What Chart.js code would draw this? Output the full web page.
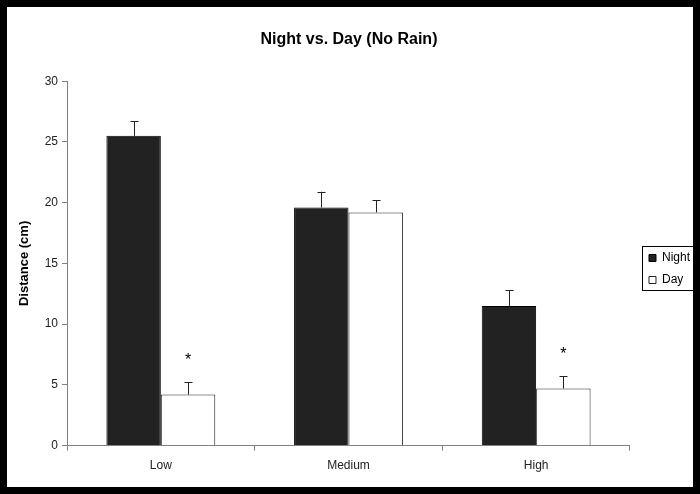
<!DOCTYPE html>
<html>
<head>
<meta charset="utf-8">
<script src="https://cdn.jsdelivr.net/npm/chart.js@4.4.1/dist/chart.umd.min.js"></script>
<style>
    html, body { margin: 0; padding: 0; background: #fff; }
    #frame {
        width: 700px; height: 494px;
        box-sizing: border-box;
        border: 7px solid #000;
        background: #fff;
    }
    canvas { display: block; }
</style>
</head>
<body>
<div id="frame">
    <canvas id="myChart" width="686" height="480"></canvas>
</div>
<script>
// categories and series
const categories = ['Low', 'Medium', 'High'];
const nightValues = [25.5, 19.6, 11.5];
const dayValues = [4.2, 19.2, 4.7];
const nightErrors = [1.2, 1.3, 1.3];
const dayErrors = [1.0, 1.0, 1.0];
const dayMarks = ['*', '', '*'];   // significance stars above the Day bars
const yTicks = [0, 5, 10, 15, 20, 25, 30];

const errorSets = [nightErrors, dayErrors];
const markSets = [[], dayMarks];

// error bars (upper half only) + asterisks + legend frame
const extras = {
    id: 'extras',
    afterLayout(chart) {
        // nudge the legend to where the original has it
        const lg = chart.legend;
        lg.left += 9;
        lg.right += 9;
        lg.top += 25;
        lg.bottom += 25;
    },
    afterDatasetsDraw(chart) {
        const ctx = chart.ctx;
        const y = chart.scales.y;
        ctx.save();
        chart.data.datasets.forEach((ds, i) => {
            const meta = chart.getDatasetMeta(i);
            meta.data.forEach((bar, j) => {
                const top = y.getPixelForValue(ds.data[j] + errorSets[i][j]);
                const base = y.getPixelForValue(ds.data[j]);
                ctx.strokeStyle = '#222';
                ctx.lineWidth = 1;
                ctx.beginPath();
                ctx.moveTo(Math.round(bar.x) + 0.5, base);
                ctx.lineTo(Math.round(bar.x) + 0.5, top);
                ctx.moveTo(Math.round(bar.x) - 3.5, Math.round(top) + 0.5);
                ctx.lineTo(Math.round(bar.x) + 4.5, Math.round(top) + 0.5);
                ctx.stroke();
                const mark = markSets[i][j];
                if (mark) {
                    ctx.fillStyle = '#000';
                    ctx.font = '16px "Liberation Sans", Arial, sans-serif';
                    ctx.textAlign = 'center';
                    ctx.textBaseline = 'middle';
                    ctx.fillText(mark, bar.x, top - 22);
                }
            });
        });
        ctx.restore();
    },
    afterDraw(chart) {
        const boxes = chart.legend.legendHitBoxes;
        if (!boxes || !boxes.length) return;
        const left = Math.min(...boxes.map(b => b.left)) - 7;
        const right = Math.max(...boxes.map(b => b.left + b.width)) + 3;
        const top = boxes[0].top - 6;
        const last = boxes[boxes.length - 1];
        const bottom = last.top + last.height + 4;
        const ctx = chart.ctx;
        ctx.save();
        ctx.strokeStyle = '#000';
        ctx.lineWidth = 1;
        ctx.strokeRect(Math.round(left) + 0.5, Math.round(top) + 0.5,
                       Math.round(right - left), Math.round(bottom - top));
        ctx.restore();
    }
};

const ctx = document.getElementById('myChart');
const myChart = new Chart(ctx, {
    type: 'bar',
    data: {
        labels: categories,
        datasets: [
            {
                label: 'Night',
                data: nightValues,
                backgroundColor: '#222222',
                borderColor: '#000000',
                borderWidth: 1,
                categoryPercentage: 0.58,
                barPercentage: 1.0
            },
            {
                label: 'Day',
                data: dayValues,
                backgroundColor: '#ffffff',
                borderColor: '#222222',
                borderWidth: 1,
                categoryPercentage: 0.58,
                barPercentage: 1.0
            }
        ]
    },
    options: {
        responsive: false,
        animation: false,
        layout: {
            padding: { left: 0, right: 2, top: 0, bottom: 6 }
        },
        scales: {
            x: {
                grid: {
                    display: true,
                    offset: true,
                    drawOnChartArea: false,
                    drawTicks: true,
                    tickLength: 5,
                    color: '#808080'
                },
                border: { display: true, color: '#808080', width: 1 },
                ticks: {
                    color: '#222',
                    padding: 8,
                    font: { family: '"Liberation Sans", Arial, sans-serif', size: 12 }
                }
            },
            y: {
                min: 0,
                max: 30,
                afterFit: (scale) => { scale.width = 60; },
                afterBuildTicks: (scale) => { scale.ticks = yTicks.map(v => ({ value: v })); },
                grid: {
                    display: true,
                    drawOnChartArea: false,
                    drawTicks: true,
                    tickLength: 5,
                    color: '#808080'
                },
                border: { display: true, color: '#808080', width: 1 },
                ticks: {
                    color: '#222',
                    padding: 4,
                    font: { family: '"Liberation Sans", Arial, sans-serif', size: 12 }
                },
                title: {
                    display: true,
                    text: 'Distance (cm)',
                    color: '#000',
                    padding: { top: 10, bottom: 0 },
                    font: { family: '"Liberation Sans", Arial, sans-serif', size: 13, weight: 'bold' }
                }
            }
        },
        plugins: {
            title: {
                display: true,
                text: 'Night vs. Day (No Rain)',
                color: '#000',
                font: { family: '"Liberation Sans", Arial, sans-serif', size: 16, weight: 'bold' },
                padding: { top: 23, bottom: 32 }
            },
            legend: {
                display: true,
                position: 'right',
                labels: {
                    boxWidth: 7,
                    boxHeight: 7,
                    padding: 10,
                    color: '#000',
                    font: { family: '"Liberation Sans", Arial, sans-serif', size: 12 }
                }
            },
            tooltip: { enabled: false }
        }
    },
    plugins: [extras]
});
</script>
</body>
</html>
